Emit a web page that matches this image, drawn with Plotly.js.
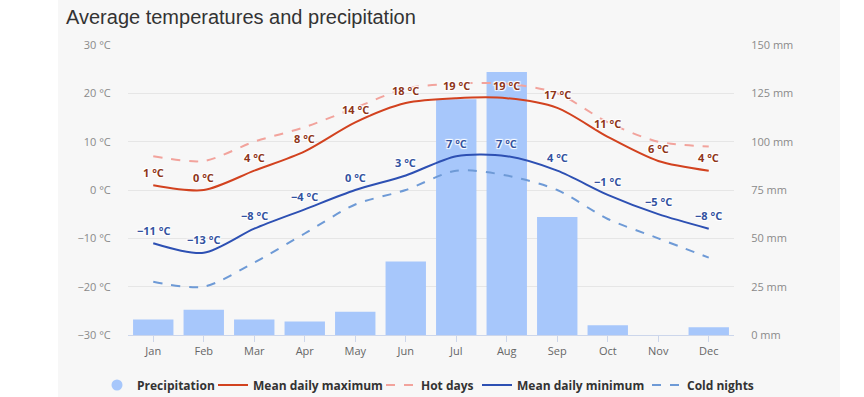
<!DOCTYPE html>
<html>
<head>
<meta charset="utf-8">
<script src="https://cdn.plot.ly/plotly-3.0.1.min.js"></script>
<style>
  html, body { margin: 0; padding: 0; background: #ffffff; width: 864px; height: 397px; overflow: hidden; }
  #chart { position: absolute; left: 58px; top: 0; width: 782px; height: 397px; }
</style>
</head>
<body>
<div id="chart"></div>
<script>
const months = ["Jan","Feb","Mar","Apr","May","Jun","Jul","Aug","Sep","Oct","Nov","Dec"];
const precipitation = [8, 13, 8, 7, 12, 38, 122, 136, 61, 5, 0, 4];
const meanMax = [1, 0, 4, 8, 14, 18, 19, 19, 17, 11, 6, 4];
const hotDays = [7, 6, 10, 13, 17, 21, 22, 22, 20, 14, 10, 9];
const meanMin = [-11, -13, -8, -4, 0, 3, 7, 7, 4, -1, -5, -8];
const coldNights = [-19, -20, -15, -9, -3, 0, 4, 3, 0, -6, -10, -14];
const seriesNames = ["Precipitation", "Mean daily maximum", "Hot days", "Mean daily minimum", "Cold nights"];

const fmt = v => (v < 0 ? "\u2212" + Math.abs(v) : String(v)) + " °C";
const halo = "1px 1px 1px #fff, -1px -1px 1px #fff, 1px -1px 1px #fff, -1px 1px 1px #fff";
const FONT = "Open Sans, DejaVu Sans, sans-serif";
const W = 782, H = 397, LEFT = 58;

const data = [
  { type: "scatter", mode: "markers", x: [null], y: [null], name: seriesNames[0], legend: "legend",
    marker: { color: "#a7c7fb", size: 11, symbol: "circle" }, showlegend: true, hoverinfo: "skip" },
  { type: "bar", x: months, y: precipitation, name: seriesNames[0], yaxis: "y",
    marker: { color: "#a7c7fb" }, showlegend: false },
  { type: "scatter", mode: "lines", x: months, y: meanMax, yaxis: "y2", name: seriesNames[1], legend: "legend2",
    line: { color: "#d2421f", width: 2, shape: "spline", smoothing: 0.8 } },
  { type: "scatter", mode: "lines", x: months, y: hotDays, yaxis: "y2", name: seriesNames[2], legend: "legend3",
    line: { color: "#f2a39c", width: 2, dash: "dash", shape: "spline", smoothing: 0.8 } },
  { type: "scatter", mode: "lines", x: months, y: meanMin, yaxis: "y2", name: seriesNames[3], legend: "legend4",
    line: { color: "#2d50b3", width: 2, shape: "spline", smoothing: 0.8 } },
  { type: "scatter", mode: "lines", x: months, y: coldNights, yaxis: "y2", name: seriesNames[4], legend: "legend5",
    line: { color: "#6e9ad6", width: 2, dash: "dash", shape: "spline", smoothing: 0.8 } }
];

const annotations = [];
months.forEach((m, i) => {
  annotations.push({ x: m, y: meanMax[i], xref: "x", yref: "y2", text: fmt(meanMax[i]),
    showarrow: false, yshift: 13, font: { color: "#8e3519", size: 11, family: FONT, weight: 700, shadow: halo } });
  annotations.push({ x: m, y: meanMin[i], xref: "x", yref: "y2", text: fmt(meanMin[i]),
    showarrow: false, yshift: 13, font: { color: "#33529f", size: 11, family: FONT, weight: 700, shadow: halo } });
});

// legend text start positions in the page (px)
const legendTextX = [137, 253, 421, 517, 687];
const legendBase = x => ({
  orientation: "h", xref: "container", yref: "container",
  x: (x - 40 - LEFT) / W, xanchor: "left", y: 1 - 385 / H, yanchor: "middle",
  font: { size: 12, color: "#333", family: FONT, weight: 700 }, bgcolor: "rgba(0,0,0,0)",
  itemwidth: 30
});

const layout = {
  width: W, height: H,
  paper_bgcolor: "#f7f7f7", plot_bgcolor: "rgba(0,0,0,0)",
  margin: { l: 70, r: 106, t: 45, b: 62, autoexpand: false },
  font: { family: FONT, color: "#333" },
  title: { text: "Average temperatures and precipitation", xref: "container", yref: "container",
    x: 8 / W, xanchor: "left", y: 1 - 17 / H, yanchor: "middle",
    font: { family: "Liberation Sans, Arial, sans-serif", size: 20, color: "#333" } },
  showlegend: true,
  legend: legendBase(legendTextX[0]),
  legend2: legendBase(legendTextX[1]),
  legend3: legendBase(legendTextX[2]),
  legend4: legendBase(legendTextX[3]),
  legend5: legendBase(legendTextX[4]),
  annotations: annotations,
  bargap: 0.2,
  xaxis: { type: "category", showgrid: false, showline: true, linecolor: "#ccd6eb", linewidth: 1,
    ticks: "outside", ticklen: 6, tickcolor: "#ccd6eb", tickfont: { size: 11, color: "#666" },
    zeroline: false, fixedrange: true },
  yaxis: { side: "right", range: [0, 150], dtick: 25, tick0: 0, ticksuffix: " mm",
    showgrid: true, gridcolor: "#e6e6e6", zeroline: false, showline: false,
    ticks: "outside", ticklen: 14, tickcolor: "rgba(0,0,0,0)",
    tickfont: { size: 11, color: "#8a8a8a" }, fixedrange: true },
  yaxis2: { overlaying: "y", side: "left", range: [-30, 30], dtick: 10, tick0: 0, ticksuffix: " °C",
    showgrid: false, zeroline: false, showline: false,
    ticks: "outside", ticklen: 14, tickcolor: "rgba(0,0,0,0)",
    tickfont: { size: 11, color: "#8a8a8a" }, fixedrange: true }
};

Plotly.newPlot("chart", data, layout, { displayModeBar: false, staticPlot: true });
</script>
</body>
</html>
